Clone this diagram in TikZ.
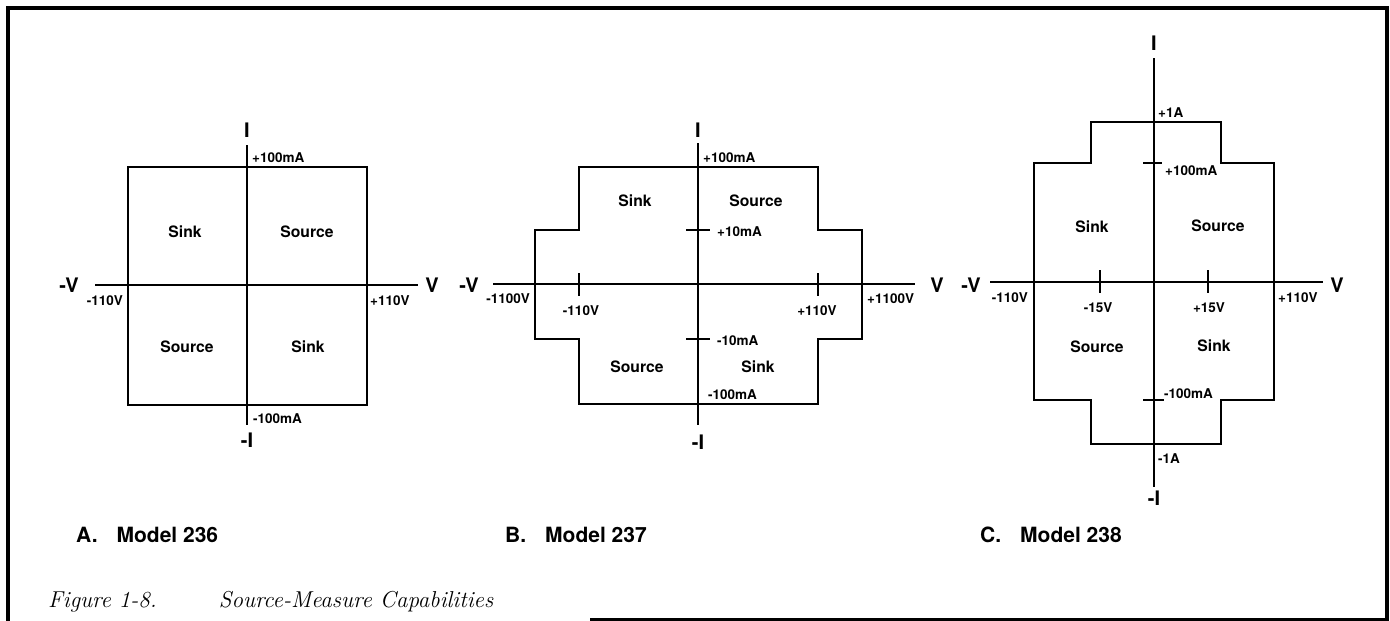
\documentclass[tikz,border=0pt]{standalone}
\usepackage{fontspec}
\newfontfamily\helv{TeX Gyre Heros}
\usetikzlibrary{positioning}
\tikzset{
axis/.style={line width=1.8pt}, % the V and I axes
bound/.style={line width=1.8pt, line join=miter}, % outline of the operating area
tik/.style={line width=1.8pt}, % short marks on the axes
lbl/.style={font=\helv\bfseries\fontsize{13.5}{15}\selectfont, inner sep=0pt}, % values at the axes
quad/.style={font=\helv\bfseries\fontsize{15.7}{18}\selectfont, inner sep=0pt}, % Sink / Source
axl/.style={font=\helv\bfseries\fontsize{20}{22}\selectfont, inner sep=0pt}, % axis letters
model/.style={font=\helv\bfseries\fontsize{21}{24}\selectfont, inner sep=0pt, anchor=base west},
}

\begin{document}
\begin{tikzpicture}[x=1pt, y=-1pt]
    \useasboundingbox (0,0) rectangle (1390,621);
    % frame
    \draw[line width=3.5pt] (590,620) -- (1387,620) -- (1387,8) -- (8,8) -- (8,621);

    % A. Model 236
    \draw[bound] (128,167) rectangle (367,405);
    \draw[axis] (95,285) -- (418,285);
    \draw[axis] (247,145) -- (247,425);
    \node[axl] (a-i) at (247,130) {I};
    \node[axl] (a-mi) at (247,440) {-I};
    \node[axl] (a-mv) at (69,285) {-V};
    \node[axl] (a-v) at (432,285) {V};
    \node[lbl, anchor=base west] (a-imax) at (252,162) {+100mA};
    \node[lbl, anchor=base west] (a-imin) at (253,423) {-100mA};
    \node[lbl, anchor=base east] (a-vmin) at (123,305) {-110V};
    \node[lbl, anchor=base west] (a-vmax) at (370,305) {+110V};
    \node[quad] (a-q2) at (185,232) {Sink};
    \node[quad] (a-q1) at (307,232) {Source};
    \node[quad] (a-q3) at (187,347) {Source};
    \node[quad] (a-q4) at (308,347) {Sink};
    \node[model] (a-name) at (76,542) {A.\hspace{19pt}Model 236};

    % B. Model 237
    \draw[bound] (579,167) -- (818,167) -- (818,230) -- (862,230) -- (862,339)
      -- (818,339) -- (818,404) -- (579,404) -- (579,339) -- (535,339)
      -- (535,230) -- (579,230) -- cycle;
    \draw[axis] (493,284) -- (915,284);
    \draw[axis] (698,143) -- (698,425);
    \draw[tik] (579,273) -- (579,296);
    \draw[tik] (818,273) -- (818,296);
    \draw[tik] (686,230) -- (710,230);
    \draw[tik] (686,339) -- (710,339);
    \node[axl] (b-i) at (698,130) {I};
    \node[axl] (b-mi) at (698,442) {-I};
    \node[axl] (b-mv) at (469,285) {-V};
    \node[axl] (b-v) at (937,285) {V};
    \node[lbl, anchor=base west] (b-imax) at (703,162) {+100mA};
    \node[lbl, anchor=base west] (b-ilo) at (717,236) {+10mA};
    \node[lbl, anchor=base west] (b-mlo) at (717,345) {-10mA};
    \node[lbl, anchor=base west] (b-imin) at (708,399) {-100mA};
    \node[lbl, anchor=base east] (b-vmin) at (530,303) {-1100V};
    \node[lbl, anchor=base] (b-vlo) at (581,315) {-110V};
    \node[lbl, anchor=base] (b-vhi) at (817,315) {+110V};
    \node[lbl, anchor=base west] (b-vmax) at (867,303) {+1100V};
    \node[quad] (b-q2) at (635,201) {Sink};
    \node[quad] (b-q1) at (756,201) {Source};
    \node[quad] (b-q3) at (637,367) {Source};
    \node[quad] (b-q4) at (758,367) {Sink};
    \node[model] (b-name) at (505,542) {B.\hspace{19pt}Model 237};

    % C. Model 238
    \draw[bound] (1091,122) -- (1221,122) -- (1221,163) -- (1274,163) -- (1274,400)
      -- (1221,400) -- (1221,444) -- (1091,444) -- (1091,400) -- (1034,400)
      -- (1034,163) -- (1091,163) -- cycle;
    \draw[axis] (990,282) -- (1323,282);
    \draw[axis] (1154,58) -- (1154,487);
    \draw[tik] (1100,270) -- (1100,293);
    \draw[tik] (1208,270) -- (1208,293);
    \draw[tik] (1143,163) -- (1162,163);
    \draw[tik] (1143,400) -- (1164,400);
    \node[axl] (c-i) at (1154,43) {I};
    \node[axl] (c-mi) at (1154,498) {-I};
    \node[axl] (c-mv) at (971,285) {-V};
    \node[axl] (c-v) at (1337,285) {V};
    \node[lbl, anchor=base west] (c-imax) at (1158,117) {+1A};
    \node[lbl, anchor=base west] (c-ihi) at (1165,175) {+100mA};
    \node[lbl, anchor=base west] (c-ilo) at (1164,398) {-100mA};
    \node[lbl, anchor=base west] (c-imin) at (1158,463) {-1A};
    \node[lbl, anchor=base east] (c-vmin) at (1028,302) {-110V};
    \node[lbl, anchor=base] (c-vlo) at (1098,312) {-15V};
    \node[lbl, anchor=base] (c-vhi) at (1209,312) {+15V};
    \node[lbl, anchor=base west] (c-vmax) at (1278,302) {+110V};
    \node[quad] (c-q2) at (1092,227) {Sink};
    \node[quad] (c-q1) at (1218,226) {Source};
    \node[quad] (c-q3) at (1097,347) {Source};
    \node[quad] (c-q4) at (1214,346) {Sink};
    \node[model] (c-name) at (980,542) {C.\hspace{19pt}Model 238};

    % caption
    \node[font=\itshape\fontsize{23}{26}\selectfont, inner sep=0pt, anchor=base west] (fig) at (48,607)
      {Figure 1-8.\hspace{62pt}Source-Measure Capabilities};
\end{tikzpicture}
\end{document}
